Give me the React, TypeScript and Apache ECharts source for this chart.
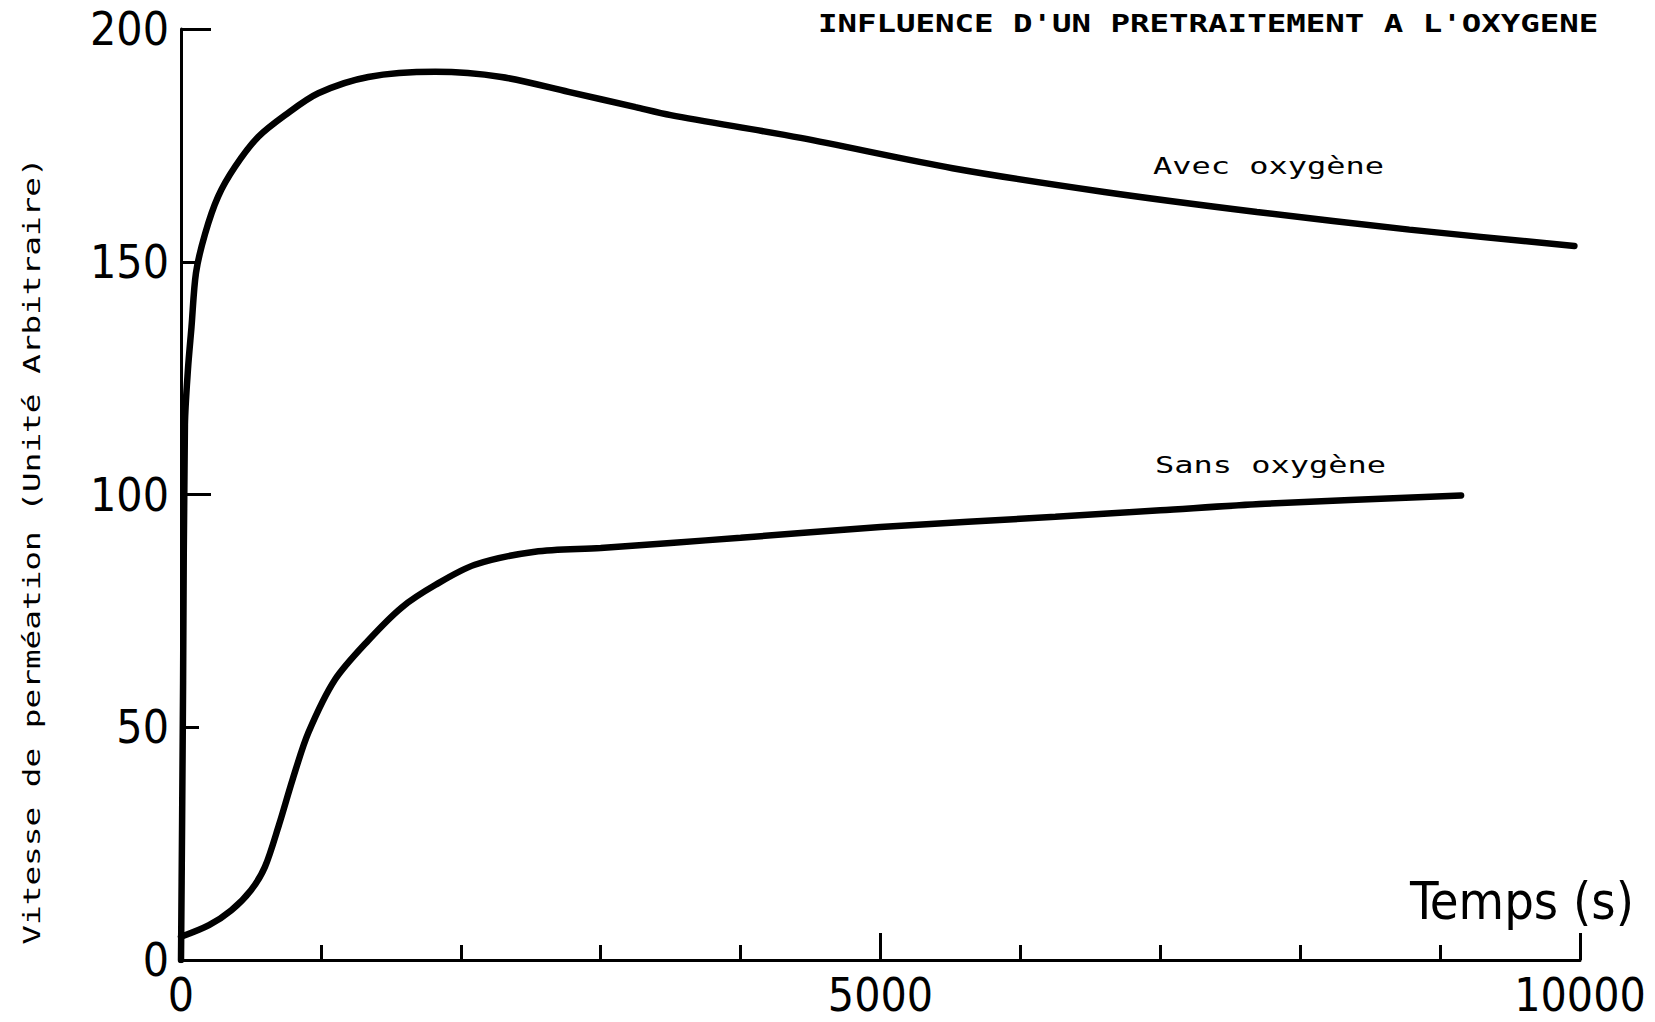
import React, { useEffect, useRef } from "react";
import * as echarts from "echarts";

// ---- data ----
const avecTime = [0, 8, 15, 28, 50, 75, 107, 172, 265, 386, 551, 744, 981, 1339, 1818, 2290, 2770, 3250, 3500, 4430, 5515, 6600, 7690, 8780, 9960];
const avecValue = [0, 30, 60, 115, 127, 136, 147.6, 156, 164, 170.4, 176.8, 181.5, 186.2, 189.7, 190.8, 189.7, 186.5, 183.2, 181.5, 176.6, 170.1, 165, 160.7, 156.9, 153.4];

const sansTime = [0, 200, 360, 500, 600, 700, 800, 910, 1100, 1340, 1580, 1820, 2100, 2530, 3000, 3500, 4000, 5000, 6250, 7000, 7750, 9150];
const sansValue = [5, 7.5, 10.7, 15, 20, 29, 39, 48.8, 60.2, 68.7, 75.8, 80.6, 84.9, 87.7, 88.5, 89.6, 90.7, 93, 95.2, 96.6, 98, 99.8];

const xMin = 0;
const xMax = 10000;
const xMinorStep = 1000;
const xMajorStep = 5000;
const yMin = 0;
const yMax = 200;
const yMinorStep = 50;
const yMajorStep = 100;

const titleText = "INFLUENCE D'UN PRETRAITEMENT A L'OXYGENE";
const yAxisTitle = "Vitesse de perméation (Unité Arbitraire)";
const xAxisTitle = "Temps (s)";
const seriesNames = ["Avec oxygène", "Sans oxygène"];

const numFont = "'Liberation Sans Narrow', 'DejaVu Sans Condensed', 'Liberation Sans', sans-serif";
const monoFont = "'DejaVu Sans Mono', 'Liberation Mono', monospace";

export default function App() {
  const ref = useRef<HTMLDivElement>(null);

  useEffect(() => {
    if (!ref.current) return;
    const chart = echarts.init(ref.current, undefined, { renderer: "svg" });
    const pairs = (t: number[], v: number[]) => t.map((x, i) => [x, v[i]]);
    const black = "#000";
    const lineSt = { color: black, width: 3 };
    const plain = (v: number) => String(v);

    chart.setOption({
      animation: false,
      backgroundColor: "#fff",
      grid: { left: 181, right: 75, top: 29, bottom: 62 },
      xAxis: [
        {
          type: "value",
          min: xMin,
          max: xMax,
          interval: xMinorStep,
          position: "bottom",
          axisLine: { show: true, onZero: false, lineStyle: lineSt },
          axisTick: { show: true, inside: true, length: 15, lineStyle: lineSt },
          axisLabel: { show: false },
          splitLine: { show: false },
        },
        {
          type: "value",
          min: xMin,
          max: xMax,
          interval: xMajorStep,
          position: "bottom",
          axisLine: { show: false, onZero: false },
          axisTick: { show: true, inside: true, length: 27, lineStyle: lineSt },
          axisLabel: {
            show: true,
            margin: 12,
            fontSize: 46,
            fontFamily: numFont,
            color: black,
            formatter: plain,
            showMinLabel: true,
            showMaxLabel: true,
          },
          splitLine: { show: false },
        },
      ],
      yAxis: [
        {
          type: "value",
          min: yMin,
          max: yMax,
          interval: yMinorStep,
          position: "left",
          axisLine: { show: true, onZero: false, lineStyle: lineSt },
          axisTick: { show: true, inside: true, length: 18, lineStyle: lineSt },
          axisLabel: {
            show: true,
            margin: 12,
            fontSize: 46,
            fontFamily: numFont,
            color: black,
            formatter: plain,
            showMinLabel: true,
            showMaxLabel: true,
          },
          splitLine: { show: false },
        },
        {
          type: "value",
          min: yMin,
          max: yMax,
          interval: yMajorStep,
          position: "left",
          axisLine: { show: false, onZero: false },
          axisTick: { show: true, inside: true, length: 30, lineStyle: lineSt },
          axisLabel: { show: false },
          splitLine: { show: false },
        },
      ],
      series: [
        {
          name: seriesNames[0],
          type: "line",
          xAxisIndex: 0,
          yAxisIndex: 0,
          data: pairs(avecTime, avecValue),
          smooth: 0.3,
          symbol: "none",
          lineStyle: { color: black, width: 6.5, cap: "round" },
        },
        {
          name: seriesNames[1],
          type: "line",
          xAxisIndex: 0,
          yAxisIndex: 0,
          data: pairs(sansTime, sansValue),
          smooth: 0.3,
          symbol: "none",
          lineStyle: { color: black, width: 6.5, cap: "round" },
        },
      ],
      graphic: [
        {
          type: "text",
          x: 818,
          y: 24,
          scaleY: 0.74,
          style: {
            text: titleText,
            fill: black,
            font: `bold 32.4px ${monoFont}`,
            textAlign: "left",
            textVerticalAlign: "middle",
          },
        },
        {
          type: "text",
          x: 32,
          y: 551,
          rotation: Math.PI / 2,
          scaleY: 0.72,
          style: {
            text: yAxisTitle,
            fill: black,
            font: `32.7px ${monoFont}`,
            textAlign: "center",
            textVerticalAlign: "middle",
          },
        },
        {
          type: "text",
          x: 1153,
          y: 166,
          scaleY: 0.72,
          style: {
            text: seriesNames[0],
            fill: black,
            font: `32px ${monoFont}`,
            textAlign: "left",
            textVerticalAlign: "middle",
          },
        },
        {
          type: "text",
          x: 1155,
          y: 465,
          scaleY: 0.72,
          style: {
            text: seriesNames[1],
            fill: black,
            font: `32px ${monoFont}`,
            textAlign: "left",
            textVerticalAlign: "middle",
          },
        },
        {
          type: "text",
          x: 1522,
          y: 901,
          style: {
            text: xAxisTitle,
            fill: black,
            font: `52px ${numFont}`,
            textAlign: "center",
            textVerticalAlign: "middle",
          },
        },
      ],
    });

    return () => chart.dispose();
  }, []);

  return (
    <div
      ref={ref}
      style={{ position: "absolute", left: 0, top: 0, width: 1655, height: 1022 }}
    />
  );
}
